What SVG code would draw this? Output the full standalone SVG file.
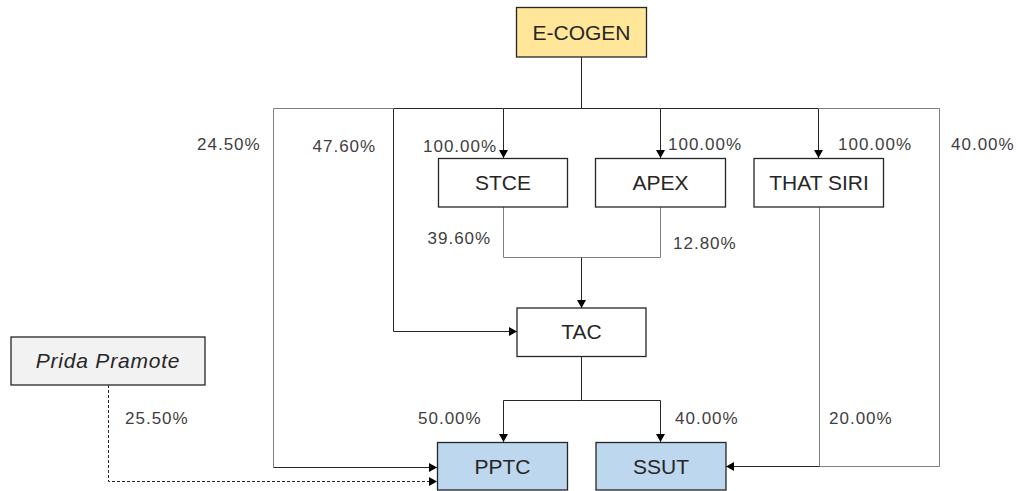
<svg xmlns="http://www.w3.org/2000/svg" width="1018" height="491" viewBox="0 0 1018 491">
  <style>
    .box { stroke: #262626; stroke-width: 1.3; }
    .lbl { font-family: "Liberation Sans", Arial, sans-serif; font-size: 21px; fill: #262626; text-anchor: middle; }
    .pct { font-family: "Liberation Sans", Arial, sans-serif; font-size: 17px; letter-spacing: 1px; fill: #404040; }
    .c { fill: none; stroke: #262626; stroke-width: 1; }
    .g { fill: none; stroke: #7f7f7f; stroke-width: 1; }
    .d { fill: none; stroke: #262626; stroke-width: 1; stroke-dasharray: 3 2; }
  </style>
  <defs>
    <marker id="ah" markerUnits="userSpaceOnUse" markerWidth="8" markerHeight="9" refX="8" refY="4.5" orient="auto">
      <path d="M0,0 L8,4.5 L0,9 Z" fill="#000"/>
    </marker>
  </defs>
  <rect width="1018" height="491" fill="#fff"/>

  <g id="connectors">
    <path class="c" d="M581.5,57 V108.5 H503.5 V158" marker-end="url(#ah)"/>
    <path class="c" d="M581.5,108.5 H660.5 V158" marker-end="url(#ah)"/>
    <path class="c" d="M660.5,108.5 H818.5 V158" marker-end="url(#ah)"/>
    <path class="c" d="M503.5,108.5 H393.5 V331.5 H517" marker-end="url(#ah)"/>
    <path class="g" d="M393.5,108.5 H273.5 V467.5"/>
    <path class="c" d="M273.5,467.5 H437" marker-end="url(#ah)"/>
    <path class="g" d="M818.5,108.5 H939.5 V466.5 H819.5"/>
    <path class="g" d="M503.5,207 V257.5 H581.5"/>
    <path class="g" d="M660.5,207 V257.5 H581.5"/>
    <path class="c" d="M581.5,257.5 V308" marker-end="url(#ah)"/>
    <path class="c" d="M581.5,357 V400.5 H503.5 V442" marker-end="url(#ah)"/>
    <path class="c" d="M581.5,400.5 H660.5 V442" marker-end="url(#ah)"/>
    <path class="g" d="M819.5,207 V466.5"/>
    <path class="c" d="M819.5,466.5 H726" marker-end="url(#ah)"/>
    <path class="d" d="M108.5,385 V481.5 H437" marker-end="url(#ah)"/>
  </g>

  <g id="node-ecogen">
    <rect class="box" x="516.5" y="7.5" width="130" height="49.5" fill="#FFE699"/>
    <text class="lbl" x="581.5" y="39.5">E-COGEN</text>
  </g>
  <g id="node-stce">
    <rect class="box" x="438.5" y="158.5" width="129" height="48.5" fill="#fff"/>
    <text class="lbl" x="503" y="189.5">STCE</text>
  </g>
  <g id="node-apex">
    <rect class="box" x="595.5" y="158.5" width="130" height="48.5" fill="#fff"/>
    <text class="lbl" x="660.5" y="189.5">APEX</text>
  </g>
  <g id="node-thatsiri">
    <rect class="box" x="754" y="158.5" width="129.5" height="48.5" fill="#fff"/>
    <text class="lbl" x="819" y="189.5">THAT SIRI</text>
  </g>
  <g id="node-tac">
    <rect class="box" x="517" y="308" width="129" height="48.5" fill="#fff"/>
    <text class="lbl" x="581.5" y="339">TAC</text>
  </g>
  <g id="node-prida">
    <rect class="box" x="11" y="337" width="194" height="48" fill="#F2F2F2"/>
    <text class="lbl" x="108" y="367.5" font-style="italic" letter-spacing="0.8">Prida Pramote</text>
  </g>
  <g id="node-pptc">
    <rect class="box" x="437.5" y="442.5" width="130" height="47.5" fill="#BDD7EE"/>
    <text class="lbl" x="502.5" y="473.5">PPTC</text>
  </g>
  <g id="node-ssut">
    <rect class="box" x="596" y="442.5" width="130" height="47.5" fill="#BDD7EE"/>
    <text class="lbl" x="661" y="473.5">SSUT</text>
  </g>

  <g id="labels">
    <text class="pct" x="197" y="149.5">24.50%</text>
    <text class="pct" x="312.5" y="151.5">47.60%</text>
    <text class="pct" x="423" y="151.5">100.00%</text>
    <text class="pct" x="668" y="150">100.00%</text>
    <text class="pct" x="838" y="150">100.00%</text>
    <text class="pct" x="951" y="150">40.00%</text>
    <text class="pct" x="427.5" y="243.5">39.60%</text>
    <text class="pct" x="673" y="248.5">12.80%</text>
    <text class="pct" x="125" y="423.5">25.50%</text>
    <text class="pct" x="418" y="423.5">50.00%</text>
    <text class="pct" x="675" y="423.5">40.00%</text>
    <text class="pct" x="829" y="423.5">20.00%</text>
  </g>
</svg>
